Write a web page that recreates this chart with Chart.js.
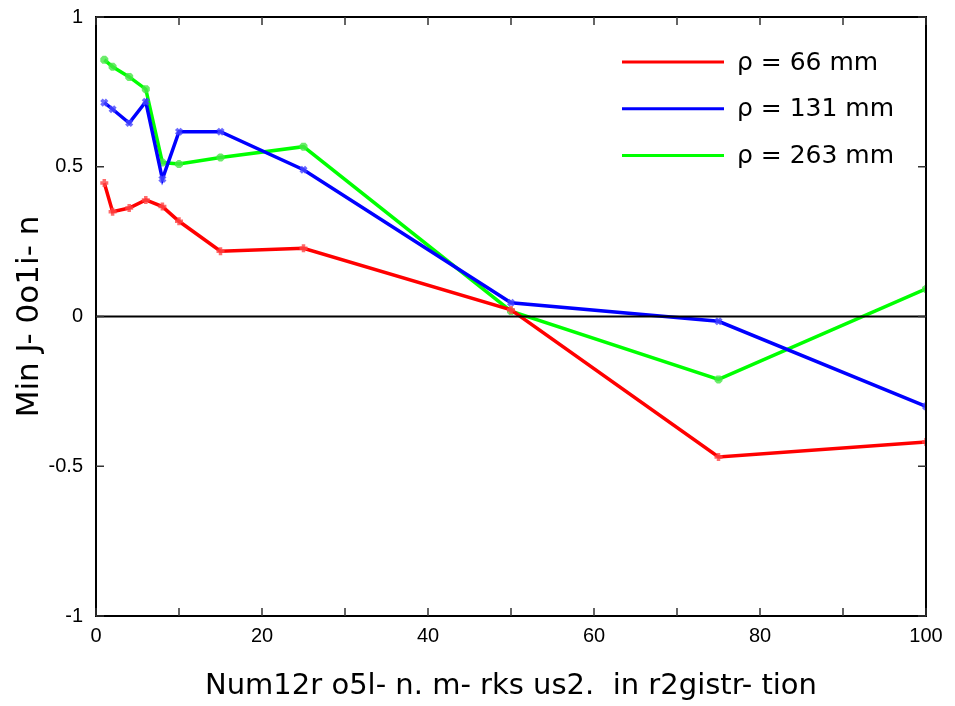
<!DOCTYPE html>
<html>
<head>
<meta charset="utf-8">
<script src="https://cdn.jsdelivr.net/npm/chart.js@4/dist/chart.umd.min.js"></script>
<style>
  html, body { margin: 0; padding: 0; background: #fff; }
  #wrap { width: 955px; height: 706px; }
</style>
</head>
<body>
<div id="wrap"><canvas id="markChart" width="955" height="706"></canvas></div>
<script>
var markCounts = [1, 2, 4, 6, 8, 10, 15, 25, 50, 75, 100];
var rho66 = [0.446, 0.35, 0.362, 0.389, 0.367, 0.318, 0.218, 0.228, 0.022, -0.469, -0.419];
var rho131 = [0.714, 0.692, 0.646, 0.717, 0.459, 0.617, 0.617, 0.49, 0.046, -0.016, -0.30];
var rho263 = [0.857, 0.834, 0.80, 0.759, 0.514, 0.509, 0.531, 0.567, 0.018, -0.21, 0.092];
var seriesLabels = ["\u03C1 = 66 mm", "\u03C1 = 131 mm", "\u03C1 = 263 mm"];
var xMinorTicks = [0, 10, 20, 30, 40, 50, 60, 70, 80, 90, 100];
var yTicks = [-1, -0.5, 0, 0.5, 1];

function pts(ys) {
  return markCounts.map(function (x, i) { return { x: x, y: ys[i] }; });
}

// frame, inward ticks, zero line and legend
var framePlugin = {
  id: 'frame',
  afterDatasetsDraw: function (chart) {
    var ctx = chart.ctx, a = chart.chartArea;
    var xs = chart.scales.x, ys = chart.scales.y;
    ctx.save();
    ctx.strokeStyle = '#000';
    ctx.lineWidth = 2;
    var y0 = ys.getPixelForValue(0);
    ctx.beginPath();
    ctx.moveTo(a.left, y0); ctx.lineTo(a.right, y0);
    ctx.stroke();
    ctx.strokeRect(a.left, a.top, a.right - a.left, a.bottom - a.top);
    ctx.lineWidth = 1.5;
    ctx.strokeStyle = '#333';
    ctx.beginPath();
    xMinorTicks.forEach(function (v) {
      var px = xs.getPixelForValue(v);
      ctx.moveTo(px, a.bottom); ctx.lineTo(px, a.bottom - 8);
      ctx.moveTo(px, a.top); ctx.lineTo(px, a.top + 8);
    });
    yTicks.forEach(function (v) {
      var py = ys.getPixelForValue(v);
      ctx.moveTo(a.left, py); ctx.lineTo(a.left + 8, py);
      ctx.moveTo(a.right, py); ctx.lineTo(a.right - 8, py);
    });
    ctx.stroke();

    // legend
    ctx.font = '25px "DejaVu Sans", sans-serif';
    ctx.textBaseline = 'middle';
    ctx.fillStyle = '#000';
    chart.data.datasets.forEach(function (ds, i) {
      var ly = 62 + i * 46.7;
      ctx.strokeStyle = ds.borderColor;
      ctx.lineWidth = 3;
      ctx.beginPath();
      ctx.moveTo(622, ly); ctx.lineTo(724, ly);
      ctx.stroke();
      ctx.fillText(ds.label, 737, ly + 1);
    });
    ctx.restore();
  }
};

var tickFont = { family: '"Liberation Sans", Arial, sans-serif', size: 20 };

var ctx = document.getElementById("markChart");
var lineChart = new Chart(ctx, {
  type: 'line',
  data: {
    datasets: [{
      label: seriesLabels[0],
      data: pts(rho66),
      borderColor: '#ff0000',
      pointBorderColor: 'rgba(255,70,70,0.8)',
      pointStyle: 'cross',
      borderWidth: 3.5
    }, {
      label: seriesLabels[1],
      data: pts(rho131),
      borderColor: '#0000ff',
      pointBorderColor: 'rgba(70,70,255,0.8)',
      pointStyle: 'crossRot',
      borderWidth: 3.5
    }, {
      label: seriesLabels[2],
      data: pts(rho263),
      borderColor: '#00ff00',
      pointBorderColor: 'rgba(70,230,70,0.8)',
      pointStyle: 'star',
      borderWidth: 3.5
    }]
  },
  options: {
    responsive: false,
    animation: false,
    devicePixelRatio: 1,
    layout: { padding: { top: 16, right: 29, left: 0, bottom: 0 } },
    elements: {
      line: { tension: 0, fill: false },
      point: { radius: 4, borderWidth: 1, hoverRadius: 4 }
    },
    plugins: {
      legend: { display: false },
      tooltip: { enabled: false }
    },
    scales: {
      x: {
        type: 'linear',
        min: 0,
        max: 100,
        grid: { display: false },
        border: { display: false },
        ticks: {
          stepSize: 20,
          padding: 0,
          color: '#000',
          maxRotation: 0,
          font: tickFont
        },
        title: {
          display: true,
          text: 'Num12r o5l- n. m- rks us2.  in r2gistr- tion',
          color: '#000',
          padding: { top: 0, bottom: 2 },
          font: { family: '"DejaVu Sans", sans-serif', size: 29 }
        },
        afterFit: function (scale) { scale.height = 90; }
      },
      y: {
        min: -1,
        max: 1,
        grid: { display: false },
        border: { display: false },
        ticks: {
          stepSize: 0.5,
          padding: 5,
          color: '#000',
          font: tickFont,
          callback: function (v) { return String(v); }
        },
        title: {
          display: true,
          text: 'Min J- 0o1i- n',
          color: '#000',
          padding: { top: 11, bottom: 0 },
          font: { family: '"DejaVu Sans", sans-serif', size: 31 }
        },
        afterFit: function (scale) { scale.width = 96; }
      }
    }
  },
  plugins: [framePlugin]
});
</script>
</body>
</html>
